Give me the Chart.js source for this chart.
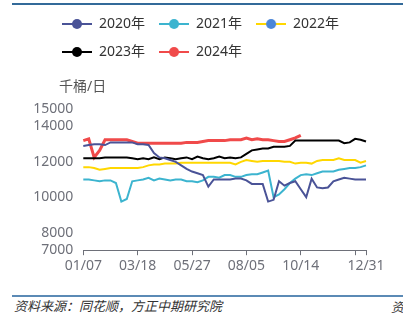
<!DOCTYPE html>
<html>
<head>
<meta charset="utf-8">
<script src="https://cdn.jsdelivr.net/npm/chart.js@4"></script>
<style>
  body { margin: 0; width: 403px; height: 324px; position: relative; overflow: hidden; background: #fff;
         font-family: 'Noto Sans', 'Noto Sans CJK SC', sans-serif; }
  #wrap { position: absolute; left: 0; top: 0; width: 403px; height: 285px; }
  .topline { position: absolute; left: 12px; right: 0; top: 3px; height: 2px; background: #336a99; }
  .unit { position: absolute; left: 59px; top: 78px; font-size: 14px; line-height: 16px; color: #555; }
  .bottomline { position: absolute; left: 12px; right: 0; top: 295px; height: 2px; background: #5b8ab5; }
  .source { position: absolute; left: 14px; top: 298px; font-size: 13px; line-height: 16px; color: #333;
            font-style: italic; font-family: 'Noto Sans CJK SC', sans-serif; }
  .cut { position: absolute; left: 391px; top: 299px; font-size: 13px; line-height: 16px; color: #333;
         font-style: italic; font-family: 'Noto Sans CJK SC', sans-serif; }
</style>
</head>
<body>
<div class="topline"></div>
<div id="wrap"><canvas id="chart"></canvas></div>
<div class="unit">千桶/日</div>
<div class="bottomline"></div>
<div class="source">资料来源：同花顺，方正中期研究院</div>
<div class="cut">资</div>
<script>
const dates = [
  "01/07","01/14","01/21","01/28","02/04","02/11","02/18","02/25","03/04","03/11",
  "03/18","03/25","04/01","04/08","04/15","04/22","04/29","05/06","05/13","05/20",
  "05/27","06/03","06/10","06/17","06/24","07/01","07/08","07/15","07/22","07/29",
  "08/05","08/12","08/19","08/26","09/02","09/09","09/16","09/23","09/30","10/07",
  "10/14","10/21","10/28","11/04","11/11","11/18","11/25","12/02","12/09","12/16",
  "12/23","12/30","12/31"
];
const tickDates = ["01/07","03/18","05/27","08/05","10/14","12/23","12/31"];
const shownDates = ["01/07","03/18","05/27","08/05","10/14","12/31"];
const yTicks = [7000, 8000, 10000, 12000, 14000, 15000];

const y2020 = [
  12900,12950,13000,13000,12950,13100,13100,13100,13100,13100,
  13000,13000,12950,12500,12250,12200,12100,12000,11800,11600,
  11450,11350,11250,10600,11000,11000,11000,11000,11050,11050,
  10950,10750,10750,10750,9750,9850,10900,10650,10800,10900,
  10450,10000,11050,10550,10500,10550,10900,11000,11100,11050,
  11000,11000,11000
];
const y2021 = [
  11000,11000,10950,10900,10950,10950,10800,9750,9900,10900,
  10950,11000,11100,10950,11050,11000,10950,11000,11000,10900,
  10900,10850,10950,11150,11150,11100,11250,11250,11150,11150,
  11250,11300,11300,11400,11500,10000,10150,10450,10800,11050,
  11250,11300,11250,11350,11450,11450,11450,11550,11600,11650,
  11650,11700,11800
];
const y2022 = [
  11700,11700,11650,11550,11600,11650,11650,11650,11650,11650,
  11650,11700,11800,11850,11850,11900,11900,11900,11950,11950,
  11950,11950,11950,11950,11950,11950,11950,11950,11850,12000,
  12100,12050,12000,12050,12050,12050,12050,12000,12000,11900,
  11950,11950,11900,12050,12100,12100,12100,12200,12100,12100,
  12100,11950,12050
];
const y2023 = [
  12200,12200,12200,12200,12250,12250,12250,12250,12250,12200,
  12150,12200,12150,12250,12150,12250,12200,12150,12200,12250,
  12150,12300,12200,12150,12200,12300,12200,12250,12200,12250,
  12450,12650,12700,12750,12750,12850,12850,12850,12900,13200,
  13200,13200,13200,13200,13200,13200,13200,13200,13050,13100,
  13300,13250,13150
];
const y2024 = [
  13200,13300,12250,12650,13250,13250,13250,13250,13250,13150,
  13050,13050,13050,13050,13050,13050,13050,13050,13050,13100,
  13100,13100,13150,13200,13200,13200,13200,13250,13250,13250,
  13350,13250,13300,13250,13250,13200,13150,13150,13250,13350,
  13500
];

const seriesNames = ["2020年", "2021年", "2022年", "2023年", "2024年"];
const lineColors = ["#4a5397", "#3cb4cf", "#ffd700", "#000000", "#f04a4a"];
const dotColors = ["#4a5397", "#3cb4cf", "#4a86d8", "#000000", "#f04a4a"];
const lineWidths = [2, 2, 2, 2, 3];
const values = [y2020, y2021, y2022, y2023, y2024];

// legend symbol: short line with a dot in the middle
function marker(lineColor, dotColor) {
  const c = document.createElement("canvas");
  c.width = 30;
  c.height = 12;
  const g = c.getContext("2d");
  g.strokeStyle = lineColor;
  g.lineWidth = 2;
  g.beginPath();
  g.moveTo(0, 6);
  g.lineTo(30, 6);
  g.stroke();
  g.fillStyle = dotColor;
  g.beginPath();
  g.arc(15, 6, 5, 0, Math.PI * 2);
  g.fill();
  return c;
}

// legend starts further right than the y axis labels
const legendLeft = {
  id: "legendLeft",
  afterLayout(chart) {
    chart.legend.left = 48;
  }
};

Chart.defaults.font.family = "'Noto Sans', 'Noto Sans CJK SC', sans-serif";

const axisGrey = "#6e7079";

new Chart(document.getElementById("chart"), {
  type: "line",
  data: {
    labels: dates,
    datasets: seriesNames.map((name, i) => ({
      label: name,
      data: values[i],
      borderColor: lineColors[i],
      backgroundColor: dotColors[i],
      borderWidth: lineWidths[i],
      pointRadius: 0,
      pointHoverRadius: 0,
      pointStyle: marker(lineColors[i], dotColors[i]),
      tension: 0,
      fill: false
    }))
  },
  options: {
    responsive: true,
    maintainAspectRatio: false,
    animation: false,
    layout: { padding: { left: 20, right: 37, top: 3, bottom: 9 } },
    plugins: {
      legend: {
        position: "top",
        align: "start",
        labels: {
          usePointStyle: true,
          pointStyleWidth: 30,
          padding: 14,
          color: "#333",
          font: { size: 14 }
        }
      },
      title: {
        display: true,
        text: "",
        weight: 500,
        font: { size: 14 },
        padding: { top: 0, bottom: 23 }
      },
      tooltip: { enabled: false }
    },
    scales: {
      x: {
        grid: { display: true, drawOnChartArea: false, drawTicks: true, tickLength: 5, color: axisGrey },
        border: { display: true, color: axisGrey, width: 1 },
        afterBuildTicks: scale => {
          scale.ticks = tickDates.map(d => ({ value: dates.indexOf(d) }));
        },
        ticks: {
          autoSkip: false,
          maxRotation: 0,
          padding: 2,
          color: axisGrey,
          font: { size: 14 },
          callback: function (value) {
            const lab = this.getLabelForValue(value);
            return shownDates.includes(lab) ? lab : "";
          }
        }
      },
      y: {
        min: 7000,
        max: 15000,
        grid: { display: false, drawTicks: false },
        border: { display: false },
        afterBuildTicks: scale => {
          scale.ticks = yTicks.map(v => ({ value: v }));
        },
        afterFit: scale => { scale.width = 63.3; },
        ticks: {
          padding: 10,
          color: axisGrey,
          font: { size: 14 },
          callback: v => String(v)
        }
      }
    }
  },
  plugins: [legendLeft]
});
</script>
</body>
</html>
